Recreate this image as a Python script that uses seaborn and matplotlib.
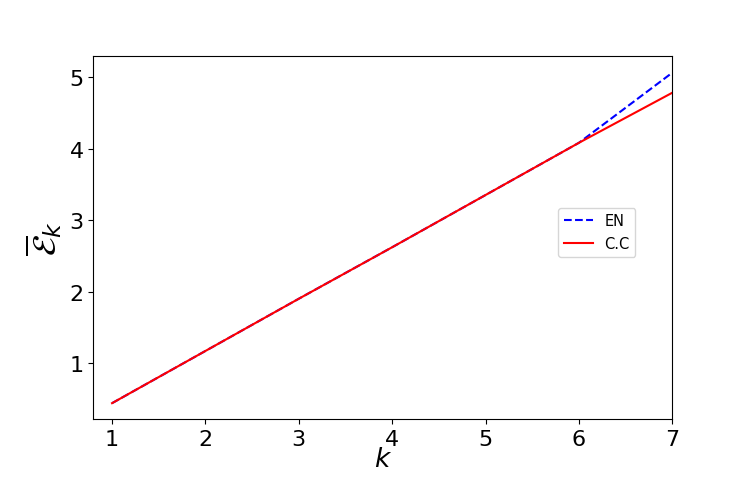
import numpy as np
import pandas as pd
import matplotlib
matplotlib.use("Agg")
import matplotlib.pyplot as plt
import seaborn as sns

# values
k_values = [1, 2, 3, 4, 5, 6, 7]
en_values = [0.44, 1.17, 1.90, 2.62, 3.35, 4.08, 5.06]
cc_values = [0.44, 1.17, 1.90, 2.62, 3.35, 4.08, 4.78]


def main():
    df = pd.DataFrame({
        "k": k_values * 2,
        "E": en_values + cc_values,
        "method": ["EN"] * len(k_values) + ["C.C"] * len(k_values),
    })

    fig = plt.figure(figsize=(7.47, 4.81), dpi=100)
    ax = fig.add_axes([0.125, 0.127, 0.775, 0.754])

    sns.lineplot(data=df[df.method == "EN"], x="k", y="E", color="blue",
                 linestyle="--", label="EN", ax=ax)
    sns.lineplot(data=df[df.method == "C.C"], x="k", y="E", color="red",
                 label="C.C", ax=ax)

    ax.set_xlim(0.8, 7)
    ax.set_ylim(0.22, 5.29)
    ax.set_xticks([1, 2, 3, 4, 5, 6, 7])
    ax.set_yticks([1, 2, 3, 4, 5])
    ax.tick_params(labelsize=16)
    ax.set_xlabel(r"$k$", fontsize=19, labelpad=-2)
    ax.set_ylabel(r"$\overline{\mathcal{E}}_k$", fontsize=24)
    ax.legend(loc="center right", bbox_to_anchor=(0.949, 0.515), fontsize=10.5)

    fig.savefig("out.png", dpi=100)


if __name__ == "__main__":
    main()
